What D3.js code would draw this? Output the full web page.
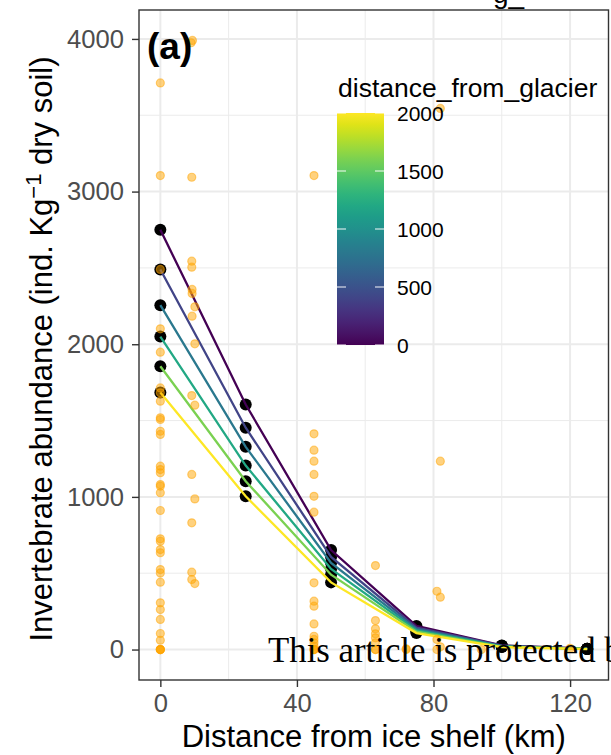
<!DOCTYPE html>
<html>
<head>
<meta charset="utf-8">
<script src="https://cdnjs.cloudflare.com/ajax/libs/d3/7.8.5/d3.min.js"></script>
<style>
	body{margin:0;background:#fff;}
	svg{display:block;font-family:"Liberation Sans",Arial,Helvetica,sans-serif;}
	.grid-major{stroke:#ebebeb;stroke-width:2;}
	.grid-minor{stroke:#ebebeb;stroke-width:1;}
	.tick-text{fill:#4d4d4d;font-size:25.6px;}
	.axis-title{fill:#000;font-size:31px;}
</style>
</head>
<body>
<svg class="fig" width="611" height="755"></svg>
<script>
// raw samples (orange dots)
var sampleKm = [
	0,0,0,0,0,0,0,0,0,0,0,0,0,0,0,0,0,0,0,0,0,0,0,0,0,0,0,0,0,0,0,0,0,0,0,
	9.4,9.0,9.2,9.2,9.2,9.3,9.3,10.1,9.3,10.1,9.2,10.1,9.2,10.1,9.2,9.2,9.2,10.1,
	45,45,45,45,45,45,45,45,45,45,45,45,45,45,45,45,45,45,
	63,63,63,63,63,63,63,63,
	72,72,
	82,82,81,82,81,82,81,
	94,120
];
var sampleAbund = [
	3712,3105,2490,2101,1948,1714,1682,1627,1518,1507,1430,1409,1201,1179,1158,1081,1070,1027,911,725,710,655,634,524,502,441,306,262,197,105,61,0,0,0,0,
	3990,3975,3094,2544,2505,2359,2333,2245,2184,2003,1664,1601,1147,987,830,507,459,432,
	3105,1413,1306,1234,1147,1004,900,437,317,284,168,87,66,44,22,0,0,0,
	550,190,136,103,77,44,0,0,
	5,0,
	3545,1234,382,343,66,18,0,
	0,8
];

// fitted curves, one per distance from glacier
var shelfKm = [0,25,50,75,100,125];
var glacierDist = [0,400,800,1200,1600,2000];
var fit0 = [2750,1605,652,155,27,6];
var fit400 = [2490,1453,607,144,25,5];
var fit800 = [2256,1328,567,134,22,5];
var fit1200 = [2050,1205,528,125,20,4];
var fit1600 = [1856,1103,490,117,18,4];
var fit2000 = [1684,1004,440,108,16,3];
var fits = [fit0,fit400,fit800,fit1200,fit1600,fit2000];

var xTicks = [0,40,80,120];
var xMinor = [20,60,100];
var yTicks = [0,1000,2000,3000,4000];
var yMinor = [500,1500,2500,3500];
var legendTicks = [0,500,1000,1500,2000];

(function(){
	var svg = d3.select('.fig');
	var panel = {left:139, right:608.5, top:10, bottom:680};

	var x = d3.scaleLinear().domain([-6.25,131.25]).range([panel.left,panel.right]);
	var y = d3.scaleLinear().domain([-199.5,4189.5]).range([panel.bottom,panel.top]);
	var colour = d3.scaleSequential(d3.interpolateViridis).domain([0,2000]);

	function addLine(g, x1, y1, x2, y2, cls){
		return g.append('line')
			.attr('x1',x1).attr('y1',y1).attr('x2',x2).attr('y2',y2)
			.attr('class',cls);
	}

	// grid
	var gGrid = svg.append('g');
	yMinor.forEach(function(v){ addLine(gGrid, panel.left, y(v), panel.right, y(v), 'grid-minor'); });
	xMinor.forEach(function(v){ addLine(gGrid, x(v), panel.top, x(v), panel.bottom, 'grid-minor'); });
	yTicks.forEach(function(v){ addLine(gGrid, panel.left, y(v), panel.right, y(v), 'grid-major'); });
	xTicks.forEach(function(v){ addLine(gGrid, x(v), panel.top, x(v), panel.bottom, 'grid-major'); });

	// black points at fitted values
	var gFit = svg.append('g');
	fits.forEach(function(f){
		f.forEach(function(v,i){
			gFit.append('circle')
				.attr('cx',x(shelfKm[i])).attr('cy',y(v)).attr('r',6)
				.attr('fill','#000');
		});
	});

	// fitted lines
	var line = d3.line()
		.x(function(d,i){ return x(shelfKm[i]); })
		.y(function(d){ return y(d); });
	fits.forEach(function(f,k){
		gFit.append('path')
			.attr('d', line(f))
			.attr('fill','none')
			.attr('stroke', colour(glacierDist[k]))
			.attr('stroke-width',2.3);
	});

	// raw samples
	var gRaw = svg.append('g');
	sampleAbund.forEach(function(v,i){
		gRaw.append('circle')
			.attr('cx',x(sampleKm[i])).attr('cy',y(v)).attr('r',4)
			.attr('fill','#ffa500').attr('fill-opacity',0.5)
			.attr('stroke','#ffa500').attr('stroke-opacity',0.5).attr('stroke-width',1.2);
	});

	// panel border
	svg.append('rect')
		.attr('x',panel.left).attr('y',panel.top)
		.attr('width',panel.right-panel.left).attr('height',panel.bottom-panel.top)
		.attr('fill','none').attr('stroke','#333').attr('stroke-width',1.4);

	// axes
	var gx = svg.append('g').attr('transform','translate(0,'+panel.bottom+')')
		.call(d3.axisBottom(x).tickValues(xTicks).tickFormat(d3.format('d')).tickSize(7).tickPadding(7));
	var gy = svg.append('g').attr('transform','translate('+panel.left+',0)')
		.call(d3.axisLeft(y).tickValues(yTicks).tickFormat(d3.format('d')).tickSize(7).tickPadding(8));
	[gx,gy].forEach(function(g){
		g.select('.domain').remove();
		g.selectAll('line').attr('stroke','#333').attr('stroke-width',1.4);
		g.selectAll('text').attr('class','tick-text').attr('fill',null)
			.style('font-family','"Liberation Sans",Arial,sans-serif');
	});

	svg.append('text').attr('class','axis-title')
		.attr('x',(panel.left+panel.right)/2).attr('y',747)
		.attr('text-anchor','middle')
		.text('Distance from ice shelf (km)');

	var yt = svg.append('text').attr('class','axis-title')
		.attr('transform','translate(52,'+((panel.top+panel.bottom)/2 + 4)+') rotate(-90)')
		.attr('text-anchor','middle');
	yt.append('tspan').text('Invertebrate abundance (ind. Kg');
	yt.append('tspan').attr('dy',-11).style('font-size','22px').text('\u22121');
	yt.append('tspan').attr('dy',11).text(' dry soil)');

	// panel tag
	svg.append('text')
		.attr('x',147).attr('y',59)
		.style('font-size','37px').style('font-weight','bold')
		.text('(a)');

	// colour bar legend
	var lg = svg.append('g');
	var ly = d3.scaleLinear().domain([0,2000]).range([345,113]);
	var grad = svg.append('defs').append('linearGradient')
		.attr('id','viridis').attr('x1',0).attr('y1',1).attr('x2',0).attr('y2',0);
	d3.range(0,1.0001,0.05).forEach(function(t){
		grad.append('stop').attr('offset',t).attr('stop-color',d3.interpolateViridis(t));
	});
	lg.append('text')
		.attr('x',338).attr('y',97)
		.style('font-size','26.5px')
		.text('distance_from_glacier');
	lg.append('rect')
		.attr('x',337).attr('y',ly(2000))
		.attr('width',47).attr('height',ly(0)-ly(2000))
		.attr('fill','url(#viridis)');
	legendTicks.forEach(function(v){
		addLine(lg, 337, ly(v), 346, ly(v), '').attr('stroke','#fff').attr('stroke-opacity',0.8).attr('stroke-width',1.2);
		addLine(lg, 375, ly(v), 384, ly(v), '').attr('stroke','#fff').attr('stroke-opacity',0.8).attr('stroke-width',1.2);
		lg.append('text')
			.attr('x',397).attr('y',ly(v)).attr('dy','0.36em')
			.style('font-size','21px')
			.text(v);
	});

	// cropped text at the very top
	svg.append('text')
		.attr('x',493).attr('y',3)
		.style('font-size','28px')
		.text('g_');

	// watermark
	svg.append('text')
		.attr('x',268).attr('y',662)
		.style('font-family','"Liberation Serif","Times New Roman",serif')
		.style('font-size','34.8px')
		.attr('fill','#000')
		.text('This article is protected by copyright. All rights reserved.');
})();
</script>
</body>
</html>
